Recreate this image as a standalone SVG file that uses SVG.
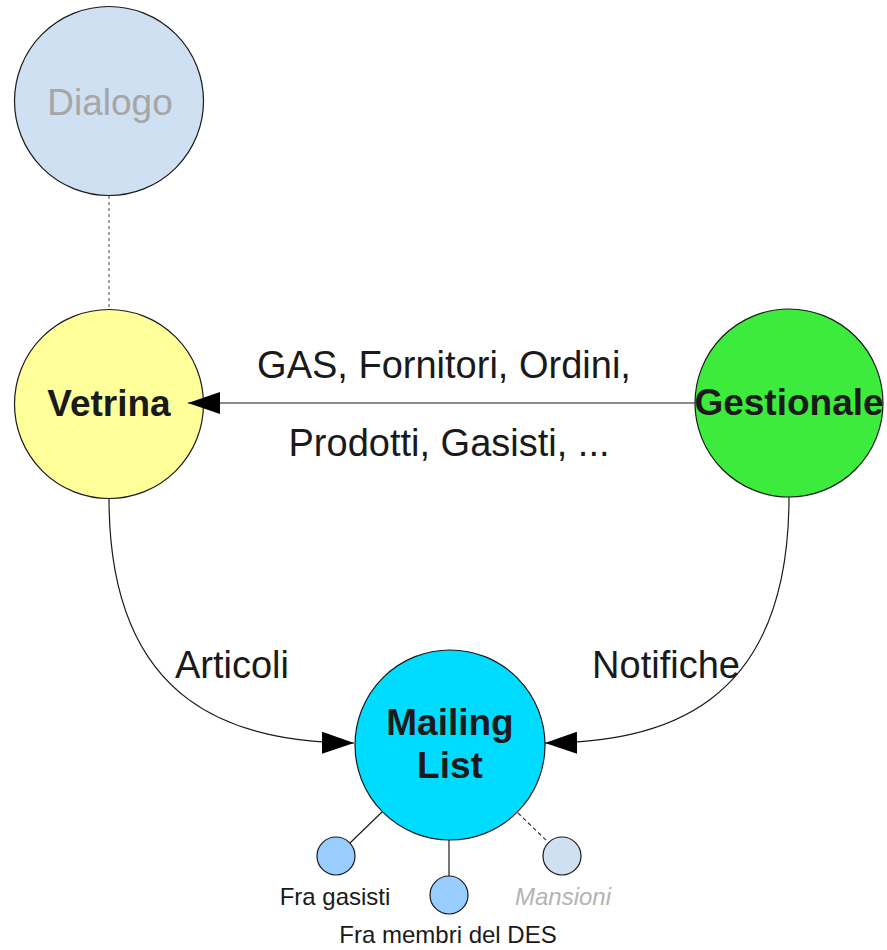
<svg xmlns="http://www.w3.org/2000/svg" width="887" height="950" viewBox="0 0 887 950">
<style>
.node{stroke:#1a1a1a;stroke-width:1.2}
.t{font-family:"Liberation Sans",Arial,sans-serif;fill:#1a1a1a;text-anchor:middle}
.b{font-weight:bold;font-size:37px}
.lab{font-size:38px}
.sm{font-size:24px}
.edge{fill:none;stroke:#1a1a1a;stroke-width:1.2}
</style>
<defs>
<marker id="arr" markerWidth="32" markerHeight="22" refX="32" refY="11" orient="auto" markerUnits="userSpaceOnUse">
<path d="M0,0 L32,11 L0,22 Z" fill="#000"/>
</marker>
</defs>
<rect width="887" height="950" fill="#fff"/>
<g id="dialogo">
<circle class="node" cx="109" cy="101" r="94.5" fill="#cfe0f2"/>
<text class="t" x="110" y="115" font-size="37" style="fill:#a6a6a6">Dialogo</text>
</g>
<g id="vetrina">
<circle class="node" cx="109" cy="404" r="94.5" fill="#ffff99"/>
<text class="t b" x="109" y="416">Vetrina</text>
</g>
<g id="gestionale">
<circle class="node" cx="789" cy="403" r="94" fill="#3deb3d"/>
<text class="t b" x="789" y="415">Gestionale</text>
</g>
<g id="mailing">
<circle class="node" cx="450" cy="745" r="95" fill="#00dcff"/>
<text class="t b" x="450" y="735">Mailing</text>
<text class="t b" x="450" y="778">List</text>
</g>
<g id="fra-gasisti">
<circle class="node" cx="336" cy="856" r="19" fill="#99ccff"/>
<text class="t sm" x="335" y="905">Fra gasisti</text>
</g>
<g id="fra-membri">
<circle class="node" cx="449" cy="895" r="19" fill="#99ccff"/>
<text class="t sm" x="448" y="943">Fra membri del DES</text>
</g>
<g id="mansioni">
<circle class="node" cx="562" cy="856" r="19" fill="#cfe0f2"/>
<text class="t sm" x="563" y="905" font-style="italic" style="fill:#b3b3b3">Mansioni</text>
</g>
<g id="connectors">
<line x1="109" y1="196" x2="109" y2="309" stroke="#666" stroke-width="1.2" stroke-dasharray="3,3"/>
<line class="edge" x1="695" y1="403" x2="188" y2="403" marker-end="url(#arr)"/>
<path class="edge" d="M109,498 C109,710 240,742 354,743" marker-end="url(#arr)"/>
<path class="edge" d="M789,497 C789,710 660,742 545,743" marker-end="url(#arr)"/>
<line class="edge" x1="382" y1="812" x2="350" y2="843"/>
<line class="edge" x1="449" y1="840" x2="449" y2="876"/>
<line x1="518" y1="813" x2="548" y2="842" stroke="#333" stroke-width="1.2" stroke-dasharray="4,3"/>
</g>
<g id="labels">
<text class="t lab" x="444" y="378">GAS, Fornitori, Ordini,</text>
<text class="t lab" x="449" y="456">Prodotti, Gasisti, ...</text>
<text class="t lab" x="232" y="678">Articoli</text>
<text class="t lab" x="666" y="678">Notifiche</text>
</g>
</svg>
